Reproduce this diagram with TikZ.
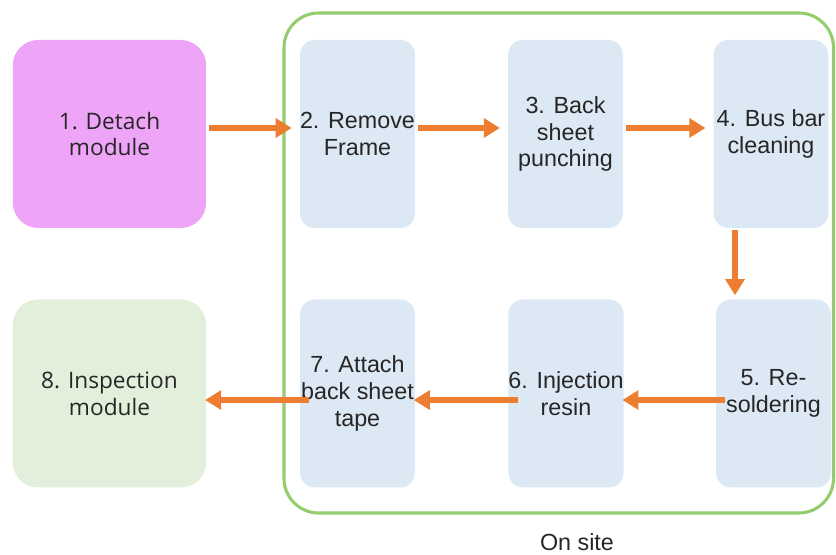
\documentclass[tikz,border=0pt]{standalone}
\usepackage{fontspec}
\setmainfont{Liberation Sans}
\newfontfamily\segoe{Open Sans}
\usepackage{tikz}
\usetikzlibrary{arrows.meta,positioning}
\definecolor{arrowor}{HTML}{ED7D31}
\definecolor{lilac}{HTML}{EEA4F7}
\definecolor{paleblue}{HTML}{DDE8F5}
\definecolor{palegreen}{HTML}{E2EFDA}
\definecolor{leaf}{HTML}{93CD6E}
\definecolor{ink}{HTML}{262626}

\begin{document}
\begin{tikzpicture}[x=.75pt,y=-.75pt,>={Triangle[length=12pt,width=14pt]},
    stepbox/.style={fill=paleblue,text=ink,rounded corners=11pt,minimum width=86pt,
      minimum height=141pt,inner sep=0pt,align=center,font=\fontsize{17.5}{20}\selectfont},
    endbox/.style={stepbox,rounded corners=19pt,minimum width=145pt,
      font=\segoe\fontsize{17}{20}\selectfont},
    flow/.style={->,line width=4.5pt,arrowor}]
    \useasboundingbox (0,0) rectangle (836,555);
    \draw[leaf,line width=2.3pt,rounded corners=26pt] (284,13) rectangle (833.5,513);
    \node[endbox,fill=lilac] (detach) at (109.5,134) {1. Detach\\module};
    \node[stepbox] (frame) at (357.5,134) {2. Remove\\Frame};
    \node[stepbox] (punch) at (565.5,134) {3. Back\\sheet\\punching};
    \node[stepbox] (busbar) at (771,134) {4. Bus bar\\cleaning};
    \node[stepbox] (solder) at (773.5,393.5) {5. Re-\\soldering};
    \node[stepbox] (resin) at (566,393.5) {6. Injection\\resin};
    \node[stepbox] (tape) at (357.5,393.5) {7. Attach\\back sheet\\tape};
    \node[endbox,fill=palegreen] (inspect) at (109.5,393.5) {8. Inspection\\module};
    \node[text=ink,font=\fontsize{17.5}{20}\selectfont] (site) at (577,542) {On site};
    \foreach \a/\b in {detach/frame,frame/punch,punch/busbar}
      \draw[flow,shorten <=2pt,shorten >=6pt] ([yshift=4.5pt]\a.east) -- ([yshift=4.5pt]\b.west);
    \foreach \a/\b in {solder/resin,resin/tape,tape/inspect}
      \draw[flow,shorten <=-7pt,shorten >=-1pt] ([yshift=-4.9pt]\a.west) -- ([yshift=-4.9pt]\b.east);
    \draw[flow,shorten <=1.5pt,shorten >=3pt] ([xshift=-27pt]busbar.south) -- ([xshift=-27pt]busbar.south |- solder.north);
  \end{tikzpicture}
\end{document}
